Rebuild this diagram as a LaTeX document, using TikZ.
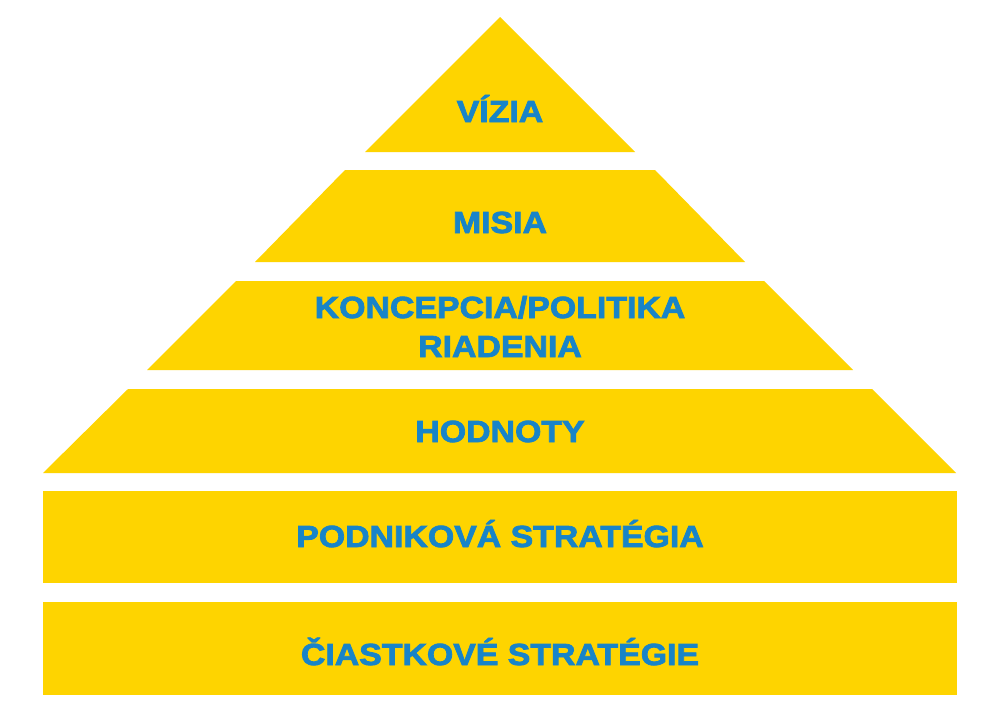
\documentclass[tikz,border=0pt]{standalone}
\usepackage{fontspec}
\newfontfamily\pyrfont[FakeStretch=1.11,FakeBold=2.6]{Liberation Sans Bold}
\definecolor{pyryellow}{RGB}{254,212,0}
\definecolor{pyrblue}{RGB}{24,132,200}
\tikzset{
  layer/.style={fill=pyryellow, draw=none},
  lbl/.style={anchor=base, text=pyrblue, font=\pyrfont\fontsize{30.5}{39}\selectfont, align=center, inner sep=0pt}
}
\begin{document}
\begin{tikzpicture}[x=1pt,y=-1pt]
\useasboundingbox (0,0) rectangle (1000,726);
\fill[white] (0,0) rectangle (1000,726);
% pyramid layers
\fill[layer] (500,17) -- (635,152) -- (365,152) -- cycle;
\fill[layer] (345,170) -- (655,170) -- (745,262) -- (255,262) -- cycle;
\fill[layer] (236,281) -- (764,281) -- (853,370) -- (147,370) -- cycle;
\fill[layer] (128,389) -- (872,389) -- (956,473) -- (43,473) -- cycle;
\fill[layer] (43,491) rectangle (957,583);
\fill[layer] (43,602) rectangle (957,695);
% labels
\node[lbl] (vizia) at (500,122) {VÍZIA};
\node[lbl] (misia) at (500,233) {MISIA};
\node[lbl] (konc) at (500,318) {KONCEPCIA/POLITIKA};
\node[lbl] (riad) at (500,357) {RIADENIA};
\node[lbl] (hodn) at (500,442) {HODNOTY};
\node[lbl] (podn) at (500,547) {PODNIKOVÁ STRATÉGIA};
\node[lbl] (ciast) at (500,665) {ČIASTKOVÉ STRATÉGIE};
\end{tikzpicture}
\end{document}
